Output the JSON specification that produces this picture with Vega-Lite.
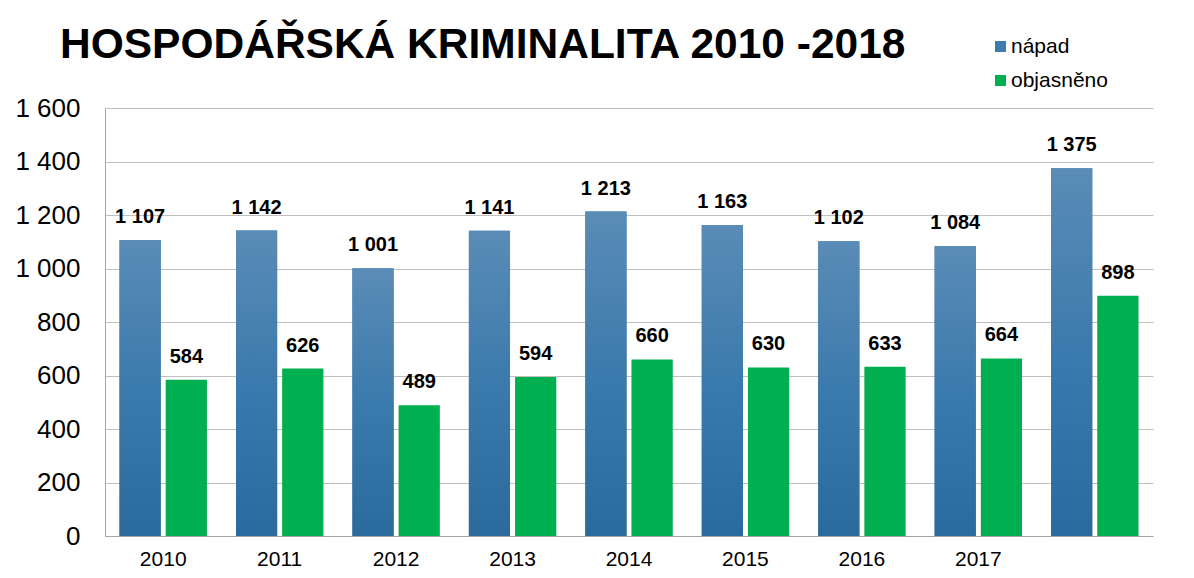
{
  "$schema": "https://vega.github.io/schema/vega-lite/v6.json",
  "width": 1048,
  "height": 428,
  "autosize": {"type": "none"},
  "padding": {"left": 105, "top": 108, "right": 41, "bottom": 42},
  "background": "white",
  "config": {
    "locale": {"number": {"decimal": ",", "thousands": " ", "grouping": [3], "currency": ["", " Kč"]}},
    "font": "Liberation Sans",
    "view": {"stroke": null}
  },
  "title": {
    "text": "HOSPODÁŘSKÁ KRIMINALITA 2010 -2018",
    "anchor": "start",
    "frame": "group",
    "fontSize": 42.5,
    "fontWeight": "bold",
    "font": "Liberation Sans",
    "color": "black",
    "dx": -45,
    "dy": 64,
    "baseline": "alphabetic",
    "offset": 0
  },
  "data": {
    "values": [
      {"rok": "2010", "serie": "nápad", "pocet": 1107},
      {"rok": "2010", "serie": "objasněno", "pocet": 584},
      {"rok": "2011", "serie": "nápad", "pocet": 1142},
      {"rok": "2011", "serie": "objasněno", "pocet": 626},
      {"rok": "2012", "serie": "nápad", "pocet": 1001},
      {"rok": "2012", "serie": "objasněno", "pocet": 489},
      {"rok": "2013", "serie": "nápad", "pocet": 1141},
      {"rok": "2013", "serie": "objasněno", "pocet": 594},
      {"rok": "2014", "serie": "nápad", "pocet": 1213},
      {"rok": "2014", "serie": "objasněno", "pocet": 660},
      {"rok": "2015", "serie": "nápad", "pocet": 1163},
      {"rok": "2015", "serie": "objasněno", "pocet": 630},
      {"rok": "2016", "serie": "nápad", "pocet": 1102},
      {"rok": "2016", "serie": "objasněno", "pocet": 633},
      {"rok": "2017", "serie": "nápad", "pocet": 1084},
      {"rok": "2017", "serie": "objasněno", "pocet": 664},
      {"rok": "2018", "serie": "nápad", "pocet": 1375},
      {"rok": "2018", "serie": "objasněno", "pocet": 898}
    ]
  },
  "encoding": {
    "x": {
      "field": "rok",
      "type": "nominal",
      "scale": {"paddingInner": 0.25, "paddingOuter": 0.125},
      "axis": {
        "title": null,
        "labelAngle": 0,
        "ticks": false,
        "labelFontSize": 21,
        "labelColor": "black",
        "labelPadding": 12,
        "domainColor": "#A6A6A6",
        "labelExpr": "datum.value == '2018' ? '' : datum.label"
      }
    },
    "xOffset": {"field": "serie", "type": "nominal", "scale": {"paddingInner": 0.11}},
    "y": {
      "field": "pocet",
      "type": "quantitative",
      "scale": {"domain": [0, 1600]},
      "axis": {
        "title": null,
        "values": [0, 200, 400, 600, 800, 1000, 1200, 1400, 1600],
        "format": ",d",
        "ticks": false,
        "labelFontSize": 26,
        "labelColor": "black",
        "labelPadding": 25,
        "gridColor": "#C0C0C0",
        "domainColor": "#A6A6A6"
      }
    }
  },
  "layer": [
    {
      "mark": {"type": "bar", "fill": "#9A9A9A", "opacity": 0.55, "xOffset": 3, "yOffset": 1}
    },
    {
      "mark": {"type": "bar"},
      "encoding": {
        "color": {
          "field": "serie",
          "type": "nominal",
          "scale": {"domain": ["nápad", "objasněno"], "range": ["#3E7CB0", "#00B050"]},
          "legend": {
            "title": null,
            "orient": "none",
            "legendX": 885,
            "legendY": -72,
            "symbolType": "square",
            "symbolSize": 121,
            "symbolStrokeWidth": 0,
            "labelFontSize": 21,
            "labelColor": "black",
            "labelOffset": 0,
            "rowPadding": 12,
            "padding": 0
          }
        }
      }
    },
    {
      "transform": [{"filter": "datum.serie == 'nápad'"}],
      "mark": {
        "type": "bar",
        "fill": {
          "gradient": "linear",
          "x1": 0, "y1": 0, "x2": 0, "y2": 1,
          "stops": [
            {"offset": 0, "color": "#5A8CB6"},
            {"offset": 0.5, "color": "#3B7AAD"},
            {"offset": 1, "color": "#2B6A9C"}
          ]
        }
      }
    },
    {
      "mark": {"type": "text", "fontWeight": "bold", "fontSize": 20, "baseline": "alphabetic", "dy": -17, "color": "black"},
      "encoding": {
        "text": {"field": "pocet", "type": "quantitative", "format": ",d"}
      }
    }
  ]
}
